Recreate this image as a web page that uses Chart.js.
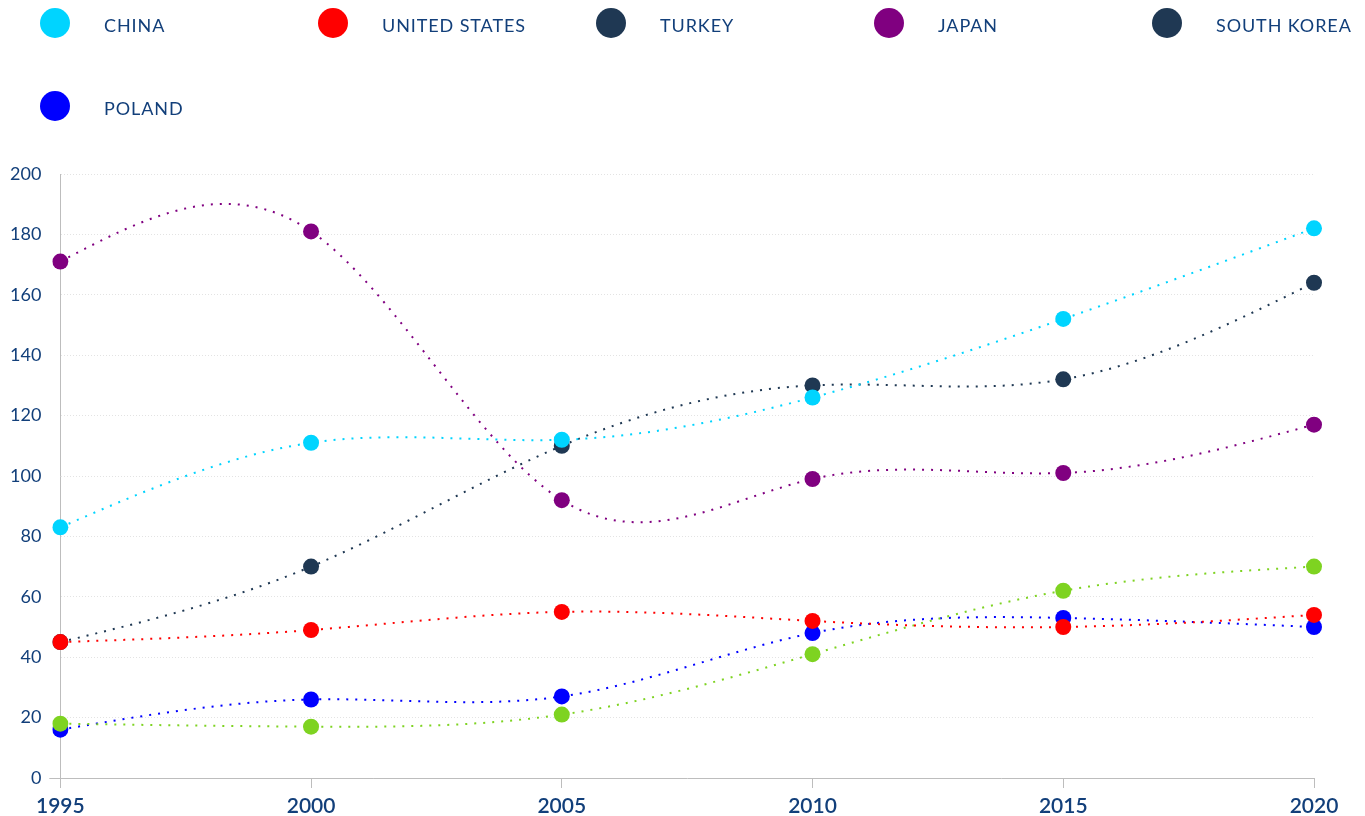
<!DOCTYPE html>
<html>
<head>
<meta charset="utf-8">
<script src="https://cdn.jsdelivr.net/npm/chart.js@4.4.1/dist/chart.umd.min.js"></script>
<style>
    html, body { margin: 0; padding: 0; background: #ffffff; }
    #wrap { position: relative; width: 1365px; height: 816px; overflow: hidden; }
    #chart { position: absolute; left: 0; top: 0; }
    #legend {
        position: absolute; left: 40px; top: 0; width: 1325px;
        display: grid; grid-template-columns: repeat(5, 278px); grid-auto-rows: 83px;
        font-family: 'Lato', sans-serif; font-size: 18px; color: #123f7a;
    }
    .legend-item { display: flex; align-items: center; height: 46px; }
    .legend-dot { width: 30px; height: 30px; border-radius: 50%; flex: none; }
    .legend-text { margin-left: 34px; letter-spacing: 0.9px; padding-top: 3px; }
</style>
</head>
<body>
<div id="wrap">
    <canvas id="chart" width="1365" height="816"></canvas>
    <div id="legend"></div>
</div>
<script>
// years on the x axis
const years = ['1995', '2000', '2005', '2010', '2015', '2020'];

const china = [83, 111, 112, 126, 152, 182];
const unitedStates = [45, 49, 55, 52, 50, 54];
const turkey = [45, 70, 110, 130, 132, 164];
const japan = [171, 181, 92, 99, 101, 117];
const southKorea = [18, 17, 21, 41, 62, 70];
const poland = [16, 26, 27, 48, 53, 50];

const yTicks = [0, 20, 40, 60, 80, 100, 120, 140, 160, 180, 200];

const textColor = '#123f7a';
const axisColor = '#bdbdbd';

// legend dot colour, line colour
const series = [
    { label: 'CHINA', data: china, dot: '#00d4ff', color: '#00d4ff' },
    { label: 'UNITED STATES', data: unitedStates, dot: '#ff0000', color: '#ff0000' },
    { label: 'TURKEY', data: turkey, dot: '#1f3853', color: '#1f3853' },
    { label: 'JAPAN', data: japan, dot: '#800080', color: '#800080' },
    { label: 'SOUTH KOREA', data: southKorea, dot: '#1f3853', color: '#7ed321' },
    { label: 'POLAND', data: poland, dot: '#0000ff', color: '#0000ff' }
];

// first derivatives of a natural cubic spline (uniform parameter)
function naturalDerivs(v) {
    const n = v.length;
    const b = [], c = [], r = [];
    for (let i = 0; i < n; i++) {
        if (i === 0) { b[i] = 2; c[i] = 1; r[i] = 3 * (v[1] - v[0]); }
        else if (i === n - 1) { b[i] = 2; c[i] = 0; r[i] = 3 * (v[i] - v[i - 1]); }
        else { b[i] = 4; c[i] = 1; r[i] = 3 * (v[i + 1] - v[i - 1]); }
    }
    // thomas algorithm, sub diagonal is 1
    for (let i = 1; i < n; i++) {
        const m = 1 / b[i - 1];
        b[i] -= m * c[i - 1];
        r[i] -= m * r[i - 1];
    }
    const d = new Array(n);
    d[n - 1] = r[n - 1] / b[n - 1];
    for (let i = n - 2; i >= 0; i--) d[i] = (r[i] - c[i] * d[i + 1]) / b[i];
    return d;
}

// swap chart.js control points for natural spline ones
const naturalSpline = {
    id: 'naturalSpline',
    beforeDatasetDraw(chart, args) {
        const meta = args.meta;
        const pts = meta.data;
        if (!meta.dataset || pts.length < 3) return;
        meta.dataset.updateControlPoints(chart.chartArea, 'x');
        const dx = naturalDerivs(pts.map(p => p.x));
        const dy = naturalDerivs(pts.map(p => p.y));
        pts.forEach((p, i) => {
            p.cp1x = p.x - dx[i] / 3;
            p.cp1y = p.y - dy[i] / 3;
            p.cp2x = p.x + dx[i] / 3;
            p.cp2y = p.y + dy[i] / 3;
        });
    }
};

const datasets = series.map(s => ({
    label: s.label,
    data: s.data,
    borderColor: s.color,
    backgroundColor: s.color,
    pointBackgroundColor: s.color,
    pointBorderColor: s.color,
    pointBorderWidth: 0,
    pointRadius: 8,
    pointHoverRadius: 8,
    borderWidth: 2,
    borderDash: [2, 7],
    tension: 0.4,
    capBezierPoints: false,
    fill: false
}));

const chart = new Chart(document.getElementById('chart'), {
    type: 'line',
    data: { labels: years, datasets: datasets },
    plugins: [naturalSpline],
    options: {
        responsive: false,
        animation: false,
        layout: { padding: { top: 174, left: 2, right: 51, bottom: 0 } },
        plugins: {
            legend: { display: false },
            tooltip: { enabled: false }
        },
        scales: {
            x: {
                offset: false,
                afterFit: (axis) => { axis.height = 38; },
                grid: { drawOnChartArea: false, drawTicks: true, tickLength: 10, tickColor: axisColor },
                border: { color: axisColor, width: 1 },
                ticks: {
                    color: textColor, padding: 8,
                    font: { family: 'Lato', size: 21, weight: '600', lineHeight: 1 },
                    maxRotation: 0
                }
            },
            y: {
                min: 0,
                max: 200,
                afterBuildTicks: (axis) => { axis.ticks = yTicks.map(v => ({ value: v })); },
                grid: {
                    color: '#e3e3e3',
                    tickLength: 11,
                    tickColor: (ctx) => ctx.index === 0 ? axisColor : 'rgba(0,0,0,0)'
                },
                border: { color: axisColor, width: 1, dash: [1, 2] },
                ticks: {
                    color: textColor, padding: 8,
                    font: { family: 'Lato', size: 18 }
                }
            }
        }
    }
});

// html legend, five per row
const legendEl = document.getElementById('legend');
series.forEach(s => {
    const item = document.createElement('div');
    item.className = 'legend-item';
    item.innerHTML = '<span class="legend-dot" style="background:' + s.dot + '"></span>' +
        '<span class="legend-text">' + s.label + '</span>';
    legendEl.appendChild(item);
});
</script>
</body>
</html>
